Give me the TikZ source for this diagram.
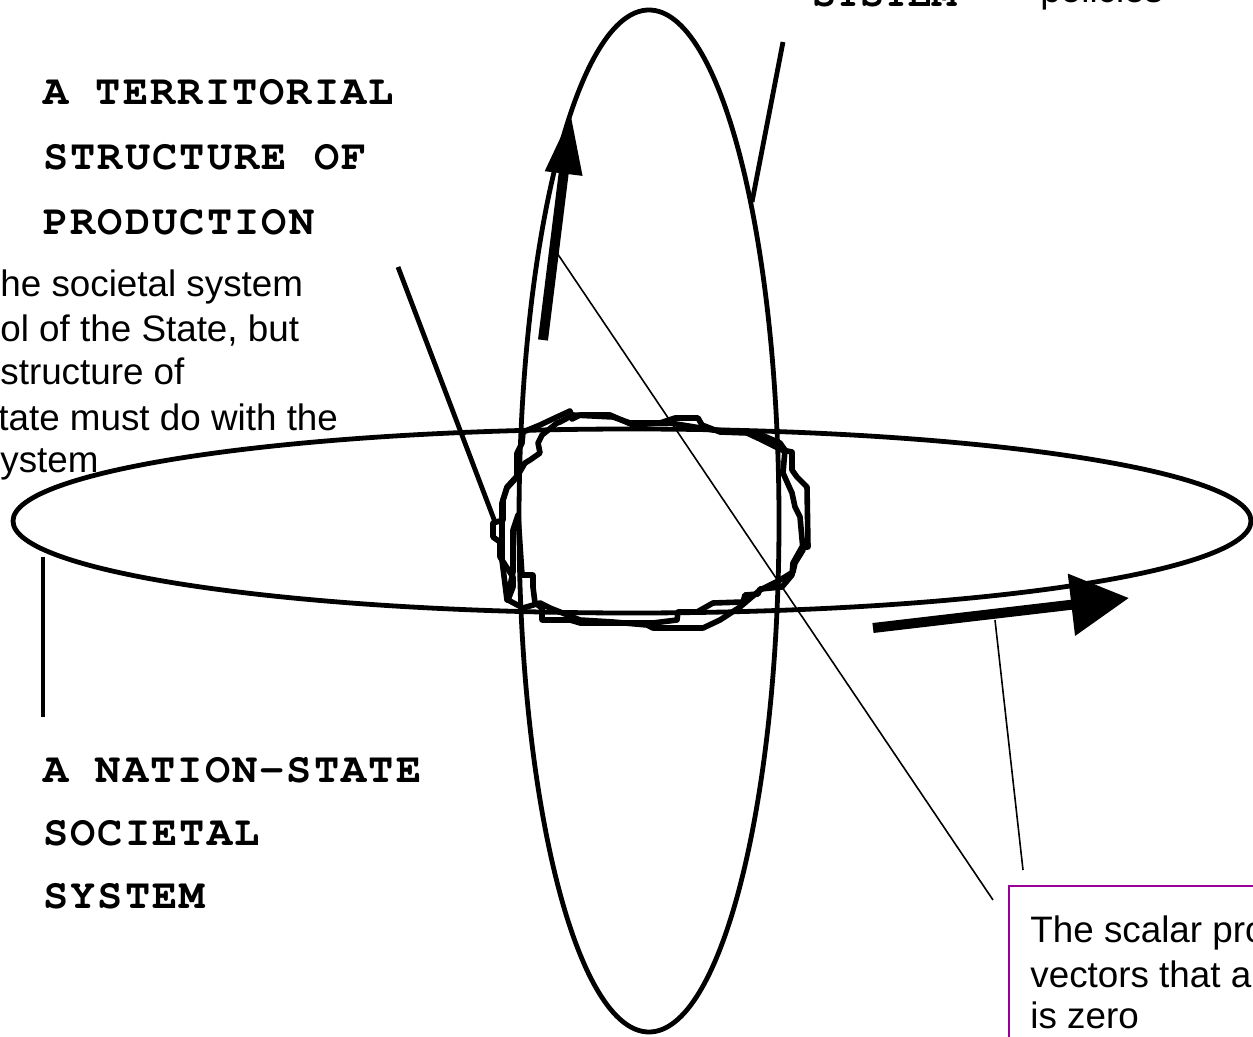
\documentclass[tikz,border=0pt]{standalone}
\usepackage{fontspec}
\setmainfont{Liberation Sans}
\newfontfamily\monobf{TeX Gyre Cursor}[LetterSpace=5]
\newfontfamily\monoplain{TeX Gyre Cursor}
\usetikzlibrary{arrows.meta}
\definecolor{boxpurple}{RGB}{153,0,153}
\tikzset{
  orbit/.style={draw=black, line width=2.4pt},
  pointer/.style={draw=black, line width=2.4pt},
  hairline/.style={draw=black, line width=0.8pt},
  fatarrow/.style={draw=black, line width=5pt},
  caps/.style={anchor=base west, inner sep=0pt, font=\monobf\bfseries\fontsize{21}{32}\selectfont},
  prose/.style={anchor=base west, inner sep=0pt, font=\fontsize{18.4}{22}\selectfont}
}
\begin{document}
\begin{tikzpicture}[x=0.5pt, y=-0.5pt]
  \useasboundingbox (0,0) rectangle (1253,1037);
  \clip (0,0) rectangle (1253,1037);

  % Two orthogonal systems
  \draw[orbit] (649,521) ellipse [x radius=130, y radius=511];
  \draw[orbit] (632,521) ellipse [x radius=619, y radius=92];

  % Tangled core where they meet
  \draw[orbit, line width=2.8pt, line join=round] (557,417) -- (570,411) -- (572,419) -- (580,415) -- (610,415)
    -- (633,425) -- (660,423) -- (675,418) -- (698,418) -- (702,425) -- (720,432)
    -- (747,433) -- (762,440) -- (782,450) -- (792,452) -- (792,470) -- (797,477)
    -- (807,487) -- (808,547) -- (802,547) -- (793,563) -- (792,575) -- (782,587)
    -- (760,589) -- (758,594) -- (745,595) -- (743,602) -- (713,603) -- (697,612)
    -- (678,612) -- (677,620) -- (653,623) -- (580,623) -- (570,620) -- (542,620)
    -- (542,608) -- (535,603) -- (533,587) -- (533,575) -- (522,575) -- (518,515)
    -- (513,530) -- (513,572) -- (507,600) -- (502,560) -- (502,503) -- (507,488)
    -- (517,477) -- (517,453) -- (522,443) -- (523,432) -- (540,425) -- cycle;
  \draw[orbit, line width=2.8pt, line join=round] (557,423) -- (542,435) -- (538,443) -- (540,453) -- (530,460)
    -- (525,463) -- (518,475) -- (507,487) -- (503,500) -- (503,520) -- (493,523)
    -- (493,537) -- (500,542) -- (500,557) -- (513,577) -- (513,587) -- (508,600)
    -- (523,608) -- (540,603) -- (550,608) -- (580,620) -- (613,622) -- (647,625)
    -- (653,628) -- (703,628) -- (720,620) -- (740,607) -- (760,590) -- (780,580)
    -- (793,572) -- (795,563) -- (803,550) -- (800,517) -- (795,507) -- (792,493)
    -- (783,473) -- (785,450) -- (780,443) -- (757,433) -- (713,430) -- (670,423)
    -- (630,423) -- (613,417) -- (573,415) -- (560,422) -- cycle;

  % Direction vectors
  \coordinate (upFoot) at (543,340);
  \coordinate (upTip) at (571,114);
  \draw[fatarrow, -{Triangle[length=30pt, width=17.5pt]}] (upFoot) -- (upTip);
  \coordinate (rightFoot) at (873,628);
  \coordinate (rightTip) at (1129,598);
  \draw[fatarrow, -{Triangle[length=29pt, width=30pt]}] (rightFoot) -- (rightTip);

  % Labels
  \node[caps, font=\monoplain\bfseries\fontsize{20}{32}\selectfont] (sysTop) at (812,7) {SYSTEM};
  \node[prose] (policies) at (1040,3) {policies};
  \node[caps] (terr1) at (43,105) {A TERRITORIAL};
  \node[caps] (terr2) at (43,170) {STRUCTURE OF};
  \node[caps] (terr3) at (43,235) {PRODUCTION};
  \node[caps] (nat1) at (43,782) {A NATION-STATE};
  \node[caps] (nat2) at (43,845) {SOCIETAL};
  \node[caps] (nat3) at (43,908) {SYSTEM};

  \node[prose] (note1) at (0,297) {he societal system};
  \node[prose] (note2) at (0,342) {ol of the State, but};
  \node[prose] (note3) at (0,385) {structure of};
  \node[prose] (note4) at (-2,430) {tate must do with the};
  \node[prose] (note5) at (0,473) {ystem};

  \draw[boxpurple, line width=1pt] (1009,886) rectangle (1300,1100);
  \node[prose] (box1) at (1030,942) {The scalar pro};
  \node[prose] (box2) at (1030,987) {vectors that a};
  \node[prose] (box3) at (1030,1028) {is zero};

  % Leader lines
  \coordinate (sysA) at (783,42);
  \coordinate (sysB) at (752,202);
  \draw[pointer] (sysA) -- (sysB);
  \coordinate (prodA) at (398,267);
  \coordinate (prodB) at (495,522);
  \draw[pointer] (prodA) -- (prodB);
  \coordinate (natA) at (43,557);
  \coordinate (natB) at (43,717);
  \draw[pointer] (natA) -- (natB);
  \coordinate (scalA) at (557,253);
  \coordinate (scalB) at (993,900);
  \draw[hairline] (scalA) -- (scalB);
  \coordinate (scalC) at (995,620);
  \coordinate (scalD) at (1023,870);
  \draw[hairline] (scalC) -- (scalD);
\end{tikzpicture}
\end{document}
